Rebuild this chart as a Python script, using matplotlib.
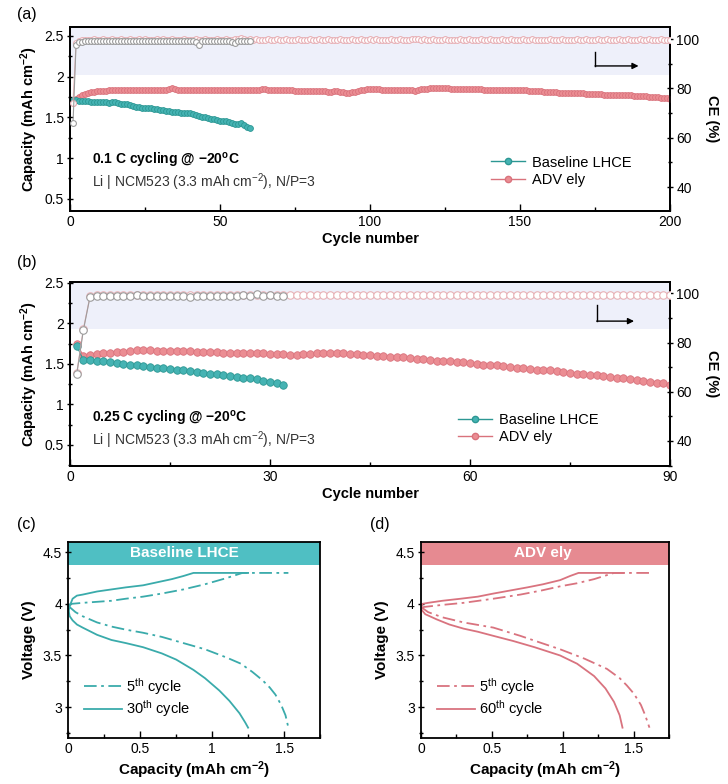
import matplotlib
matplotlib.use('Agg')
import matplotlib.pyplot as plt
from matplotlib.ticker import MultipleLocator, FuncFormatter
from matplotlib.lines import Line2D

plt.rcParams['font.family'] = ['Liberation Sans', 'DejaVu Sans']
plt.rcParams['mathtext.default'] = 'regular'
plt.rcParams['axes.linewidth'] = 1.3
plt.rcParams['font.size'] = 10

TEAL = '#45b3b3'
TEAL_EDGE = '#2c9793'
PINK = '#eb8d93'
PINK_EDGE = '#d9727c'
CE_PINK = '#e8b2b7'
CE_GREY = '#9c9c9c'
BAND = '#eef0fa'
HEAD_TEAL = '#4fbfc3'
HEAD_PINK = '#e68a91'
CURVE_TEAL = '#3aabab'
CURVE_PINK = '#d9737f'

# ---------------- (a) 0.1 C cycling ----------------
cap_a_base = [1.71, 1.71, 1.70, 1.70, 1.70, 1.70, 1.69, 1.69, 1.69, 1.69,
              1.69, 1.69, 1.68, 1.69, 1.69, 1.68, 1.67, 1.67, 1.66, 1.65,
              1.64, 1.63, 1.63, 1.62, 1.62, 1.61, 1.61, 1.60, 1.60, 1.59,
              1.59, 1.58, 1.58, 1.57, 1.56, 1.56, 1.55, 1.55, 1.55, 1.55,
              1.54, 1.53, 1.52, 1.51, 1.50, 1.49, 1.48, 1.48, 1.47, 1.46,
              1.45, 1.45, 1.44, 1.43, 1.42, 1.42, 1.43, 1.40, 1.38, 1.37]
cap_a_adv = [1.68, 1.72, 1.75, 1.77, 1.79, 1.80, 1.81, 1.81, 1.82, 1.82,
             1.82, 1.82, 1.83, 1.83, 1.84, 1.84, 1.84, 1.83, 1.84, 1.84,
             1.84, 1.84, 1.83, 1.84, 1.84, 1.83, 1.84, 1.84, 1.84, 1.84,
             1.84, 1.84, 1.85, 1.86, 1.85, 1.84, 1.84, 1.84, 1.84, 1.84,
             1.83, 1.84, 1.84, 1.84, 1.83, 1.83, 1.84, 1.84, 1.83, 1.83,
             1.83, 1.83, 1.83, 1.83, 1.83, 1.83, 1.83, 1.84, 1.83, 1.84,
             1.84, 1.84, 1.84, 1.85, 1.85, 1.84, 1.84, 1.84, 1.84, 1.83,
             1.83, 1.83, 1.83, 1.83, 1.82, 1.82, 1.82, 1.82, 1.82, 1.82,
             1.82, 1.82, 1.82, 1.82, 1.82, 1.81, 1.81, 1.82, 1.82, 1.81,
             1.81, 1.80, 1.80, 1.81, 1.81, 1.82, 1.83, 1.84, 1.85, 1.85,
             1.85, 1.85, 1.85, 1.84, 1.84, 1.84, 1.84, 1.84, 1.84, 1.83,
             1.83, 1.83, 1.83, 1.83, 1.82, 1.84, 1.85, 1.85, 1.85, 1.86,
             1.86, 1.86, 1.86, 1.86, 1.86, 1.86, 1.85, 1.85, 1.85, 1.85,
             1.85, 1.85, 1.85, 1.85, 1.85, 1.85, 1.85, 1.84, 1.84, 1.84,
             1.84, 1.84, 1.84, 1.84, 1.84, 1.84, 1.84, 1.83, 1.83, 1.83,
             1.83, 1.83, 1.82, 1.82, 1.82, 1.82, 1.82, 1.81, 1.81, 1.81,
             1.81, 1.81, 1.80, 1.80, 1.80, 1.80, 1.80, 1.80, 1.80, 1.80,
             1.80, 1.79, 1.79, 1.79, 1.79, 1.79, 1.79, 1.78, 1.78, 1.78,
             1.78, 1.78, 1.77, 1.77, 1.77, 1.77, 1.77, 1.76, 1.76, 1.76,
             1.76, 1.76, 1.75, 1.75, 1.75, 1.75, 1.74, 1.74, 1.74, 1.73]
ce_a_base = [66.0, 97.6, 98.8, 99.0, 99.2, 99.1, 99.3, 99.2, 99.1, 99.3,
             99.2, 99.3, 99.1, 99.2, 99.3, 99.2, 99.1, 99.3, 99.2, 99.2,
             99.3, 99.1, 99.2, 99.3, 99.2, 99.1, 99.2, 99.3, 99.2, 99.1,
             99.3, 99.2, 99.2, 99.3, 99.1, 99.2, 99.3, 99.2, 99.1, 99.2,
             99.3, 99.0, 97.6, 99.2, 99.3, 99.2, 99.1, 99.2, 99.3, 99.2,
             99.1, 99.2, 99.3, 99.0, 98.6, 99.2, 99.3, 99.2, 99.1, 99.2]
ce_a_adv = [74.0, 98.2, 99.4, 99.6, 99.7, 99.8, 99.7, 99.9, 99.8, 99.8,
            99.9, 99.7, 99.8, 99.9, 99.8, 99.7, 99.9, 99.8, 99.8, 99.9,
            99.8, 99.7, 99.9, 99.8, 99.9, 99.8, 99.7, 99.8, 99.9, 99.8,
            99.9, 99.8, 99.8, 100.2, 99.8, 99.7, 99.8, 99.9, 99.8, 99.7,
            99.8, 99.9, 99.8, 99.7, 99.9, 99.8, 99.7, 99.8, 99.9, 99.8,
            99.7, 99.9, 99.8, 99.8, 100.1, 99.9, 100.3, 100.0, 99.8, 99.9,
            99.8, 99.9, 99.8, 99.7, 99.8, 99.9, 99.8, 99.8, 99.9, 99.7,
            99.8, 99.9, 99.8, 99.7, 99.8, 99.9, 99.8, 99.7, 99.8, 99.9,
            99.8, 99.7, 99.9, 99.8, 99.8, 99.9, 99.7, 99.8, 99.8, 99.9,
            99.8, 99.7, 99.8, 99.9, 99.8, 99.8, 99.9, 99.8, 99.7, 99.9,
            99.8, 99.9, 99.8, 99.8, 99.7, 99.8, 99.9, 99.8, 99.8, 99.9,
            99.8, 99.7, 99.8, 100.1, 100.2, 99.9, 99.8, 99.9, 99.8, 99.8,
            99.9, 99.8, 99.7, 99.8, 99.9, 99.8, 99.8, 99.7, 99.8, 99.9,
            99.8, 99.8, 99.9, 99.8, 99.7, 99.8, 99.9, 99.8, 99.8, 99.9,
            99.8, 99.7, 99.8, 99.9, 99.8, 99.8, 99.9, 99.8, 99.7, 99.8,
            99.9, 99.8, 99.8, 99.9, 99.8, 99.6, 99.7, 99.8, 99.8, 99.9,
            99.8, 99.6, 99.8, 99.9, 99.8, 99.8, 99.7, 99.8, 99.9, 99.8,
            99.8, 99.9, 99.8, 99.7, 99.8, 99.9, 99.8, 99.8, 99.9, 99.8,
            99.7, 99.8, 99.9, 99.8, 99.8, 99.9, 99.8, 99.7, 99.8, 99.9,
            99.8, 99.8, 99.9, 99.8, 99.7, 99.8, 99.9, 99.8, 99.8, 99.8]

# ---------------- (b) 0.25 C cycling ----------------
cap_b_base = [1.72, 1.55, 1.55, 1.54, 1.53, 1.52, 1.51, 1.50, 1.49, 1.48,
              1.47, 1.46, 1.45, 1.45, 1.44, 1.43, 1.42, 1.41, 1.40, 1.39,
              1.38, 1.37, 1.36, 1.35, 1.34, 1.33, 1.32, 1.31, 1.29, 1.28,
              1.26, 1.24]
cap_b_adv = [1.75, 1.60, 1.61, 1.62, 1.63, 1.64, 1.65, 1.65, 1.66, 1.67,
             1.67, 1.67, 1.66, 1.66, 1.66, 1.66, 1.66, 1.66, 1.65, 1.65,
             1.65, 1.65, 1.64, 1.64, 1.64, 1.63, 1.63, 1.63, 1.63, 1.62,
             1.62, 1.62, 1.61, 1.61, 1.62, 1.62, 1.63, 1.63, 1.63, 1.63,
             1.63, 1.62, 1.62, 1.61, 1.61, 1.60, 1.60, 1.59, 1.58, 1.58,
             1.57, 1.56, 1.56, 1.55, 1.54, 1.54, 1.53, 1.52, 1.52, 1.51,
             1.50, 1.49, 1.49, 1.48, 1.47, 1.46, 1.45, 1.45, 1.44, 1.43,
             1.42, 1.42, 1.41, 1.40, 1.39, 1.38, 1.37, 1.36, 1.36, 1.35,
             1.34, 1.33, 1.32, 1.31, 1.30, 1.29, 1.28, 1.27, 1.26, 1.24]
ce_b_base = [67.0, 85.0, 98.6, 99.0, 99.1, 99.0, 99.1, 99.0, 99.1, 99.2,
             99.0, 99.1, 99.0, 98.9, 99.1, 99.0, 99.1, 98.7, 99.0, 99.1,
             99.0, 99.1, 99.0, 99.1, 99.0, 99.2, 99.0, 99.6, 99.1, 99.3,
             98.9, 99.0]
ce_b_adv = [67.5, 85.5, 98.8, 99.2, 99.3, 99.2, 99.3, 99.4, 99.3, 99.2,
            99.3, 99.3, 99.2, 99.3, 99.4, 99.3, 99.2, 99.3, 99.3, 99.2,
            99.3, 99.4, 99.3, 99.2, 99.3, 99.3, 99.2, 99.3, 99.3, 99.2,
            99.3, 99.4, 99.3, 99.3, 99.3, 99.4, 99.5, 99.4, 99.5, 99.5,
            99.4, 99.3, 99.3, 99.4, 99.3, 99.3, 99.3, 99.4, 99.3, 99.3,
            99.3, 99.4, 99.3, 99.3, 99.3, 99.4, 99.3, 99.3, 99.3, 99.3,
            99.4, 99.3, 99.3, 99.3, 99.4, 99.3, 99.3, 99.3, 99.3, 99.4,
            99.3, 99.3, 99.3, 99.4, 99.3, 99.3, 99.3, 99.3, 99.4, 99.3,
            99.3, 99.3, 99.4, 99.3, 99.3, 99.3, 99.3, 99.4, 99.3, 99.3]

# ---------------- (c) Baseline LHCE voltage profiles ----------------
c5_chg_x = [0, 0.02, 0.1, 0.2, 0.3, 0.4, 0.52, 0.65, 0.8, 0.95, 1.1, 1.21, 1.53]
c5_chg_v = [3.98, 4.00, 4.01, 4.02, 4.03, 4.05, 4.07, 4.10, 4.14, 4.19, 4.25, 4.30, 4.30]
c5_dis_x = [0, 0.05, 0.1, 0.2, 0.3, 0.4, 0.52, 0.65, 0.8, 0.95, 1.1, 1.2,
            1.28, 1.35, 1.40, 1.44, 1.48, 1.51, 1.53]
c5_dis_v = [3.98, 3.92, 3.88, 3.82, 3.78, 3.75, 3.72, 3.68, 3.62, 3.56, 3.48, 3.42,
            3.34, 3.26, 3.19, 3.12, 3.02, 2.92, 2.80]
c30_chg_x = [0, 0.01, 0.03, 0.06, 0.1, 0.2, 0.3, 0.4, 0.52, 0.62, 0.72, 0.8, 0.87, 1.25]
c30_chg_v = [3.92, 3.98, 4.05, 4.08, 4.09, 4.12, 4.14, 4.16, 4.18, 4.21, 4.24, 4.27, 4.30, 4.30]
c30_dis_x = [0, 0.01, 0.03, 0.06, 0.1, 0.2, 0.3, 0.4, 0.52, 0.65, 0.75, 0.87,
             0.95, 1.05, 1.12, 1.19, 1.23, 1.25]
c30_dis_v = [3.95, 3.88, 3.84, 3.80, 3.77, 3.70, 3.65, 3.62, 3.58, 3.52, 3.46, 3.36,
             3.28, 3.16, 3.06, 2.94, 2.85, 2.80]

# ---------------- (d) ADV ely voltage profiles ----------------
d5_chg_x = [0, 0.02, 0.15, 0.3, 0.51, 0.7, 0.85, 0.98, 1.1, 1.22, 1.36, 1.62]
d5_chg_v = [3.95, 3.97, 3.99, 4.01, 4.05, 4.09, 4.13, 4.17, 4.20, 4.24, 4.30, 4.30]
d5_dis_x = [0, 0.05, 0.15, 0.3, 0.51, 0.7, 0.85, 0.98, 1.15, 1.31, 1.4, 1.45,
            1.5, 1.55, 1.58, 1.61]
d5_dis_v = [3.97, 3.92, 3.87, 3.82, 3.77, 3.69, 3.62, 3.56, 3.47, 3.37, 3.28, 3.21,
            3.13, 3.02, 2.92, 2.80]
d60_chg_x = [0, 0.01, 0.05, 0.15, 0.28, 0.4, 0.51, 0.63, 0.75, 0.86, 0.98, 1.05, 1.11, 1.43]
d60_chg_v = [3.95, 4.00, 4.01, 4.03, 4.05, 4.07, 4.10, 4.13, 4.16, 4.19, 4.23, 4.27, 4.30, 4.30]
d60_dis_x = [0, 0.03, 0.11, 0.2, 0.3, 0.4, 0.51, 0.65, 0.8, 0.98, 1.1, 1.22,
             1.3, 1.36, 1.4, 1.42]
d60_dis_v = [3.95, 3.90, 3.85, 3.80, 3.76, 3.73, 3.69, 3.64, 3.58, 3.50, 3.42, 3.30,
             3.18, 3.05, 2.92, 2.80]

num_fmt = FuncFormatter(lambda v, p: '{:g}'.format(round(v, 3)))
DASHDOT = (0, (7, 2.5, 1.5, 2.5))

fig = plt.figure(figsize=(7.28, 7.84), dpi=100)


def style_axis(ax):
    ax.tick_params(axis='x', which='both', direction='in', width=1.0, labelsize=10, pad=3)
    ax.tick_params(axis='y', which='both', direction='inout', width=1.0, labelsize=10, pad=2)
    ax.tick_params(which='major', length=5)
    ax.tick_params(which='minor', length=3)


def cycling_panel(rect, base_cap, adv_cap, base_ce, adv_ce, xmax, xmaj,
                  ylim, ce_lim, band_low, ms, ms_ce, lines, arrow):
    ax = fig.add_axes(rect)
    ax2 = ax.twinx()
    ax.axhspan(band_low, 5, color=BAND, lw=0, zorder=0)

    cyc_base = list(range(1, len(base_cap) + 1))
    cyc_adv = list(range(1, len(adv_cap) + 1))
    ax.plot(cyc_adv, adv_cap, '-o', color=PINK_EDGE, mfc=PINK, mec=PINK_EDGE,
            ms=ms, mew=0.6, lw=0.8, zorder=3)
    ax.plot(cyc_base, base_cap, '-o', color=TEAL_EDGE, mfc=TEAL, mec=TEAL_EDGE,
            ms=ms, mew=0.6, lw=0.8, zorder=3)
    ax2.plot(list(range(1, len(adv_ce) + 1)), adv_ce, '-o', color=CE_PINK,
             mfc='white', mec=CE_PINK, ms=ms_ce, mew=0.8, lw=0.8, zorder=3)
    ax2.plot(list(range(1, len(base_ce) + 1)), base_ce, '-o', color=CE_GREY,
             mfc='white', mec=CE_GREY, ms=ms_ce, mew=0.8, lw=0.8, zorder=3)

    ax.set_xlim(0, xmax)
    ax.set_ylim(*ylim)
    ax2.set_ylim(*ce_lim)
    ax.xaxis.set_major_locator(MultipleLocator(xmaj))
    ax.xaxis.set_minor_locator(MultipleLocator(xmaj / 2))
    ax.yaxis.set_major_locator(MultipleLocator(0.5))
    ax.yaxis.set_minor_locator(MultipleLocator(0.25))
    ax2.yaxis.set_major_locator(MultipleLocator(20))
    ax2.yaxis.set_minor_locator(MultipleLocator(10))
    ax.yaxis.set_major_formatter(num_fmt)
    for a in (ax, ax2):
        style_axis(a)

    ax.set_xlabel('Cycle number', fontweight='bold', fontsize=10.5, labelpad=2)
    ax.set_ylabel('Capacity (mAh cm$^{-2}$)', fontweight='bold', fontsize=10.5, labelpad=3)
    ax2.set_ylabel('CE (%)', fontweight='bold', fontsize=10.5, rotation=270, labelpad=14)

    ax.text(0.037, lines[0], lines[1], transform=ax.transAxes, fontweight='bold',
            fontsize=10, va='center')
    ax.text(0.037, lines[2], 'Li | NCM523 (3.3 mAh cm$^{-2}$), N/P=3',
            transform=ax.transAxes, fontsize=10, va='center', color='#333333')

    handles = [Line2D([], [], color=TEAL_EDGE, marker='o', mfc=TEAL, mec=TEAL_EDGE,
                      ms=4.5, lw=1.0),
               Line2D([], [], color=PINK_EDGE, marker='o', mfc=PINK, mec=PINK_EDGE,
                      ms=4.5, lw=1.0)]
    ax.legend(handles, ['Baseline LHCE', 'ADV ely'], loc='center left',
              bbox_to_anchor=lines[3], frameon=False, fontsize=10.5,
              handlelength=2.3, handletextpad=0.5, labelspacing=0.25)

    (x0, y0, y1, x1) = arrow
    ax2.plot([x0, x0], [y0, y1], color='black', lw=1.0)
    ax2.annotate('', xy=(x1, y1), xytext=(x0, y1),
                 arrowprops=dict(arrowstyle='-|>', color='black', lw=1.0,
                                 mutation_scale=9, shrinkA=0, shrinkB=0))
    return ax, ax2


cycling_panel([0.0962, 0.7309, 0.8242, 0.2347], cap_a_base, cap_a_adv,
              ce_a_base, ce_a_adv, 200, 50, (0.35, 2.61), (30.3, 104.9), 2.02,
              4.2, 4.2,
              (0.272, r'0.1 C cycling @ −20$^{o}$C', 0.158, (0.68, 0.215)),
              (175, 94.7, 89.1, 189.5))
cycling_panel([0.0962, 0.4056, 0.8242, 0.2347], cap_b_base, cap_b_adv,
              ce_b_base, ce_b_adv, 90, 30, (0.24, 2.51), (29.8, 104.6), 1.935,
              5.4, 5.4,
              (0.259, r'0.25 C cycling @ −20$^{o}$C', 0.141, (0.625, 0.203)),
              (79, 95.2, 88.7, 84.6))


def profile_panel(rect, color, head_color, title, title_x, chg5, dis5, chgN, disN, n_label):
    ax = fig.add_axes(rect)
    ax.axhspan(4.38, 4.7, color=head_color, lw=0, zorder=0)
    ax.text(title_x, 4.49, title, color='white', fontweight='bold', fontsize=11,
            ha='center', va='center', transform=ax.get_yaxis_transform())
    ax.plot(chg5[0], chg5[1], color=color, lw=1.3, ls=DASHDOT)
    ax.plot(dis5[0], dis5[1], color=color, lw=1.3, ls=DASHDOT)
    ax.plot(chgN[0], chgN[1], color=color, lw=1.3)
    ax.plot(disN[0], disN[1], color=color, lw=1.3)
    ax.set_xlim(0, 1.75)
    ax.set_ylim(2.7, 4.6)
    ax.xaxis.set_major_locator(MultipleLocator(0.5))
    ax.xaxis.set_minor_locator(MultipleLocator(0.25))
    ax.yaxis.set_major_locator(MultipleLocator(0.5))
    ax.yaxis.set_minor_locator(MultipleLocator(0.25))
    ax.xaxis.set_major_formatter(num_fmt)
    ax.yaxis.set_major_formatter(num_fmt)
    style_axis(ax)
    ax.set_xlabel('Capacity (mAh cm$^{-2}$)', fontweight='bold', fontsize=11, labelpad=2)
    ax.set_ylabel('Voltage (V)', fontweight='bold', fontsize=11, labelpad=5)
    handles = [Line2D([], [], color=color, lw=1.3, ls=DASHDOT),
               Line2D([], [], color=color, lw=1.3)]
    ax.legend(handles, ['5$^{th}$ cycle', n_label], loc='lower left',
              bbox_to_anchor=(0.01, 0.03), frameon=False, fontsize=10.5,
              handlelength=2.6, handletextpad=0.3, labelspacing=0.1)
    return ax


profile_panel([0.0938, 0.0587, 0.3458, 0.25], CURVE_TEAL, HEAD_TEAL, 'Baseline LHCE', 0.46,
              (c5_chg_x, c5_chg_v), (c5_dis_x, c5_dis_v),
              (c30_chg_x, c30_chg_v), (c30_dis_x, c30_dis_v), '30$^{th}$ cycle')
profile_panel([0.5783, 0.0587, 0.3411, 0.25], CURVE_PINK, HEAD_PINK, 'ADV ely', 0.49,
              (d5_chg_x, d5_chg_v), (d5_dis_x, d5_dis_v),
              (d60_chg_x, d60_chg_v), (d60_dis_x, d60_dis_v), '60$^{th}$ cycle')

for lab, x, y in [('(a)', 17, 15), ('(b)', 17, 263), ('(c)', 17, 525), ('(d)', 370, 525)]:
    fig.text(x / 728, 1 - y / 784, lab, fontsize=11.5, va='center', ha='left')

fig.savefig('out.png', dpi=100)
